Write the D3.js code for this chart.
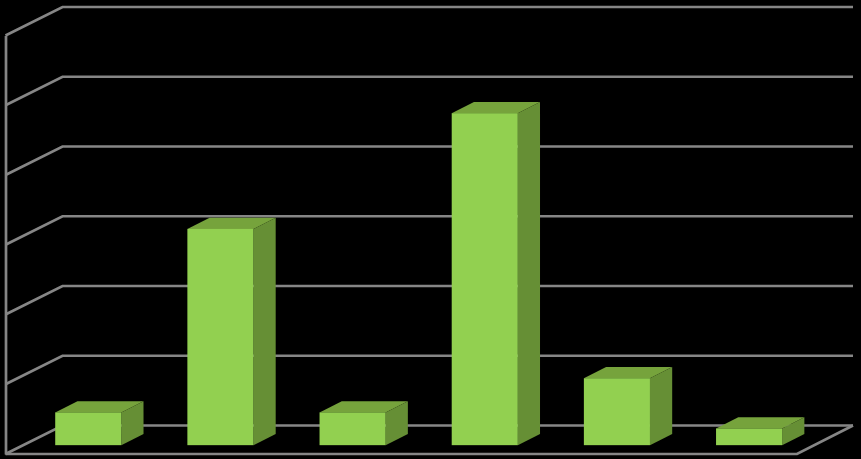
<!DOCTYPE html>
<html>
<head>
<meta charset="utf-8">
<script src="https://cdn.jsdelivr.net/npm/d3@7"></script>
<style>
  html, body { margin: 0; background: #000; overflow: hidden; }
  svg { display: block; }
</style>
</head>
<body>
<div id="chart"></div>
<script>
// the original has no labels, so categories are just positions
const categories = ['A', 'B', 'C', 'D', 'E', 'F'];
const values = [4.7, 31, 4.7, 47.6, 9.6, 2.4];
const tickValues = [0, 10, 20, 30, 40, 50, 60];

const width = 861, height = 459;
const gridColor = '#868686', gridWidth = 2.7;
const frontColor = '#92d050', sideColor = '#668f35', topColor = '#76a33c';

// 3d box: how far the back wall is shifted from the front edge
const depth = { x: 57, y: -28.5 };
const barStart = 0.31, barEnd = 0.7;   // bar position inside the floor depth
const wallX = 5.5, floorRight = 797;

const x = d3.scaleBand()
  .domain(categories)
  .range([4.5, 797.5])
  .paddingInner(0.5)
  .paddingOuter(0.25);

const y = d3.scaleLinear()
  .domain([0, 60])
  .range([454, 35.5]);

const svg = d3.select('#chart').append('svg')
  .attr('width', width)
  .attr('height', height);

svg.append('rect')
  .attr('width', width)
  .attr('height', height)
  .attr('fill', '#000');

// left wall
const wall = svg.append('g')
  .attr('transform', `translate(${wallX},0)`)
  .call(d3.axisLeft(y).tickValues(tickValues).tickSize(0).tickFormat(''));
wall.select('.domain').attr('stroke', gridColor).attr('stroke-width', gridWidth);

// gridlines run across the side wall, then along the back wall
const plotRight = floorRight + depth.x - 1;
svg.append('g').selectAll('path')
  .data(tickValues)
  .enter().append('path')
  .attr('fill', 'none')
  .attr('stroke', gridColor)
  .attr('stroke-width', gridWidth)
  .attr('d', d => d3.line()([
    [wallX, y(d)],
    [wallX + depth.x, y(d) + depth.y],
    [plotRight, y(d) + depth.y]
  ]));

// floor outline
svg.append('path')
  .attr('fill', 'none')
  .attr('stroke', gridColor)
  .attr('stroke-width', gridWidth)
  .attr('d', d3.line()([
    [wallX, y(0)],
    [floorRight, y(0)],
    [plotRight, y(0) + depth.y]
  ]));

// bars
const bars = svg.append('g').selectAll('g')
  .data(categories.map((c, i) => ({ category: c, value: values[i] })))
  .enter().append('g')
  .attr('class', 'bar');

const dx0 = depth.x * barStart, dy0 = depth.y * barStart;
const dx = depth.x * (barEnd - barStart), dy = depth.y * (barEnd - barStart);
const barLeft = d => x(d.category) + dx0;
const barRight = d => barLeft(d) + x.bandwidth();
const barTop = d => y(d.value) + dy0;
const barBottom = y(0) + dy0;

bars.append('path')
  .attr('fill', topColor)
  .attr('d', d => d3.line()([
    [barLeft(d), barTop(d)], [barLeft(d) + dx, barTop(d) + dy],
    [barRight(d) + dx, barTop(d) + dy], [barRight(d), barTop(d)]
  ]) + 'Z');

bars.append('path')
  .attr('fill', sideColor)
  .attr('d', d => d3.line()([
    [barRight(d), barTop(d)], [barRight(d) + dx, barTop(d) + dy],
    [barRight(d) + dx, barBottom + dy], [barRight(d), barBottom]
  ]) + 'Z');

bars.append('rect')
  .attr('fill', frontColor)
  .attr('x', barLeft)
  .attr('y', barTop)
  .attr('width', x.bandwidth())
  .attr('height', d => barBottom - barTop(d));
</script>
</body>
</html>
